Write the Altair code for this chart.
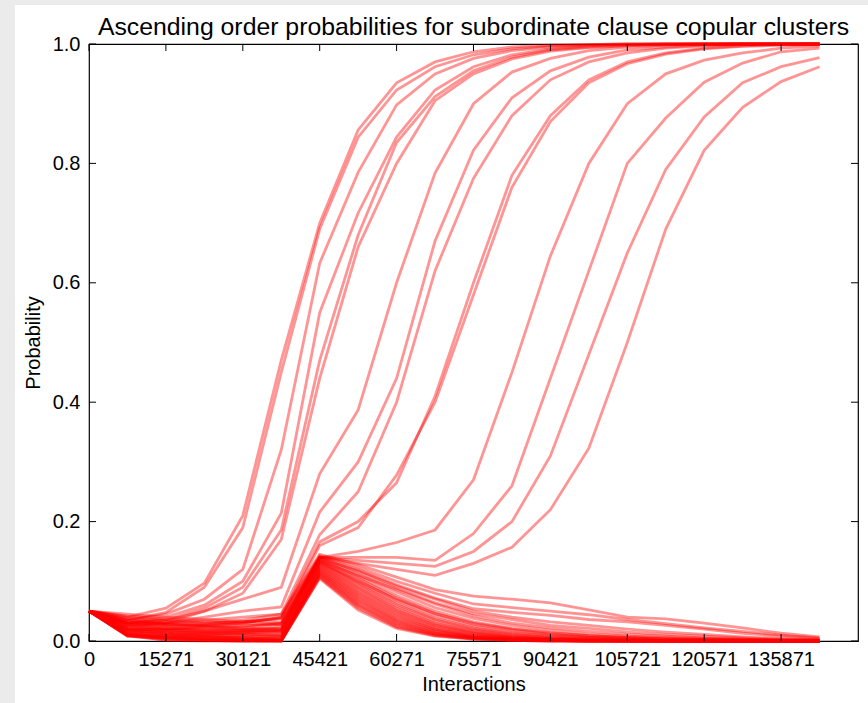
import json
import altair as alt
import pandas as pd

# ---------------- data ----------------
x_tick_positions = [0, 2, 4, 6, 8, 10, 12, 14, 16, 18]
x_tick_labels = ["0", "15271", "30121", "45421", "60271", "75571",
                 "90421", "105721", "120571", "135871"]
y_ticks = [0.0, 0.2, 0.4, 0.6, 0.8, 1.0]
chart_title = "Ascending order probabilities for subordinate clause copular clusters"

# clusters whose ascending order wins (rise to 1)
rise_01 = [0.05, 0.040, 0.055, 0.097, 0.210, 0.470, 0.700, 0.856, 0.935, 0.970, 0.987, 0.995, 0.998, 0.999, 1.0, 1.0, 1.0, 1.0, 1.0, 1.0]
rise_02 = [0.05, 0.035, 0.048, 0.090, 0.190, 0.450, 0.690, 0.844, 0.923, 0.962, 0.982, 0.992, 0.997, 0.999, 1.0, 1.0, 1.0, 1.0, 1.0, 1.0]
rise_03 = [0.05, 0.035, 0.045, 0.070, 0.120, 0.320, 0.633, 0.785, 0.898, 0.950, 0.976, 0.989, 0.995, 0.998, 0.999, 1.0, 1.0, 1.0, 1.0, 1.0]
rise_04 = [0.05, 0.030, 0.040, 0.060, 0.100, 0.214, 0.550, 0.717, 0.844, 0.923, 0.962, 0.982, 0.992, 0.997, 0.999, 1.0, 1.0, 1.0, 1.0, 1.0]
rise_05 = [0.05, 0.030, 0.035, 0.055, 0.090, 0.186, 0.470, 0.680, 0.835, 0.912, 0.955, 0.978, 0.990, 0.995, 0.998, 0.999, 1.0, 1.0, 1.0, 1.0]
rise_06 = [0.05, 0.028, 0.030, 0.050, 0.080, 0.170, 0.440, 0.660, 0.800, 0.905, 0.950, 0.975, 0.988, 0.994, 0.997, 0.999, 1.0, 1.0, 1.0, 1.0]
rise_07 = [0.05, 0.030, 0.035, 0.050, 0.070, 0.090, 0.280, 0.387, 0.600, 0.784, 0.900, 0.953, 0.976, 0.989, 0.995, 0.998, 0.999, 1.0, 1.0, 1.0]
rise_08 = [0.05, 0.025, 0.030, 0.040, 0.050, 0.057, 0.216, 0.300, 0.440, 0.670, 0.822, 0.910, 0.955, 0.978, 0.990, 0.995, 0.998, 1.0, 1.0, 1.0]
rise_09 = [0.05, 0.030, 0.030, 0.035, 0.040, 0.045, 0.178, 0.250, 0.400, 0.620, 0.775, 0.880, 0.940, 0.970, 0.985, 0.993, 0.997, 0.999, 1.0, 1.0]
rise_10 = [0.05, 0.020, 0.020, 0.025, 0.030, 0.040, 0.166, 0.200, 0.265, 0.410, 0.600, 0.780, 0.880, 0.940, 0.970, 0.985, 0.993, 0.997, 0.999, 1.0]
rise_11 = [0.05, 0.025, 0.025, 0.028, 0.032, 0.038, 0.160, 0.190, 0.278, 0.400, 0.580, 0.760, 0.870, 0.935, 0.967, 0.983, 0.992, 0.996, 0.998, 0.999]
rise_12 = [0.05, 0.022, 0.020, 0.020, 0.022, 0.030, 0.140, 0.150, 0.165, 0.186, 0.270, 0.450, 0.645, 0.800, 0.900, 0.950, 0.973, 0.985, 0.993, 0.997]
rise_13 = [0.05, 0.020, 0.018, 0.016, 0.018, 0.025, 0.140, 0.140, 0.140, 0.135, 0.180, 0.260, 0.440, 0.620, 0.800, 0.876, 0.936, 0.968, 0.987, 0.993]
rise_14 = [0.05, 0.018, 0.015, 0.014, 0.015, 0.020, 0.140, 0.135, 0.130, 0.125, 0.150, 0.200, 0.310, 0.480, 0.650, 0.790, 0.878, 0.935, 0.962, 0.977]
rise_15 = [0.05, 0.016, 0.014, 0.012, 0.013, 0.018, 0.140, 0.130, 0.120, 0.110, 0.130, 0.157, 0.220, 0.323, 0.500, 0.690, 0.822, 0.894, 0.937, 0.962]

# clusters whose ascending order dies out
fall_01 = [0.05, 0.035, 0.030, 0.030, 0.035, 0.045, 0.145, 0.128, 0.107, 0.086, 0.075, 0.070, 0.064, 0.052, 0.040, 0.037, 0.030, 0.022, 0.013, 0.007]
fall_02 = [0.05, 0.030, 0.028, 0.026, 0.030, 0.040, 0.143, 0.124, 0.100, 0.080, 0.062, 0.056, 0.050, 0.044, 0.036, 0.029, 0.022, 0.016, 0.010, 0.005]
fall_03 = [0.05, 0.040, 0.034, 0.030, 0.032, 0.038, 0.141, 0.120, 0.094, 0.072, 0.054, 0.048, 0.043, 0.036, 0.032, 0.026, 0.020, 0.013, 0.008, 0.004]
fall_04 = [0.05, 0.025, 0.020, 0.022, 0.025, 0.030, 0.140, 0.116, 0.088, 0.064, 0.046, 0.036, 0.026, 0.021, 0.015, 0.011, 0.008, 0.005, 0.003, 0.002]
fall_05 = [0.05, 0.045, 0.040, 0.036, 0.033, 0.032, 0.139, 0.112, 0.082, 0.056, 0.038, 0.026, 0.018, 0.012, 0.008, 0.006, 0.004, 0.003, 0.002, 0.001]
fall_06 = [0.05, 0.020, 0.018, 0.016, 0.018, 0.022, 0.137, 0.108, 0.076, 0.050, 0.032, 0.021, 0.014, 0.009, 0.006, 0.004, 0.003, 0.002, 0.001, 0.001]
fall_07 = [0.05, 0.032, 0.026, 0.024, 0.022, 0.020, 0.136, 0.105, 0.072, 0.046, 0.028, 0.018, 0.011, 0.007, 0.005, 0.003, 0.002, 0.001, 0.001, 0.000]
fall_08 = [0.05, 0.015, 0.012, 0.012, 0.014, 0.016, 0.134, 0.102, 0.068, 0.042, 0.025, 0.015, 0.009, 0.006, 0.004, 0.002, 0.002, 0.001, 0.000, 0.000]
fall_09 = [0.05, 0.028, 0.022, 0.018, 0.016, 0.014, 0.133, 0.098, 0.064, 0.038, 0.022, 0.013, 0.008, 0.005, 0.003, 0.002, 0.001, 0.001, 0.000, 0.000]
fall_10 = [0.05, 0.012, 0.010, 0.009, 0.010, 0.012, 0.131, 0.096, 0.061, 0.036, 0.020, 0.011, 0.006, 0.004, 0.002, 0.001, 0.001, 0.000, 0.000, 0.000]
fall_11 = [0.05, 0.038, 0.030, 0.025, 0.020, 0.018, 0.130, 0.093, 0.058, 0.033, 0.018, 0.010, 0.005, 0.003, 0.002, 0.001, 0.001, 0.000, 0.000, 0.000]
fall_12 = [0.05, 0.022, 0.016, 0.013, 0.011, 0.010, 0.128, 0.090, 0.055, 0.030, 0.016, 0.008, 0.004, 0.002, 0.001, 0.001, 0.000, 0.000, 0.000, 0.000]
fall_13 = [0.05, 0.010, 0.008, 0.007, 0.006, 0.008, 0.127, 0.088, 0.052, 0.028, 0.014, 0.007, 0.004, 0.002, 0.001, 0.001, 0.000, 0.000, 0.000, 0.000]
fall_14 = [0.05, 0.018, 0.014, 0.010, 0.008, 0.006, 0.125, 0.085, 0.050, 0.026, 0.013, 0.006, 0.003, 0.002, 0.001, 0.000, 0.000, 0.000, 0.000, 0.000]
fall_15 = [0.05, 0.026, 0.020, 0.015, 0.012, 0.009, 0.124, 0.082, 0.047, 0.024, 0.012, 0.006, 0.003, 0.001, 0.001, 0.000, 0.000, 0.000, 0.000, 0.000]
fall_16 = [0.05, 0.014, 0.010, 0.008, 0.006, 0.005, 0.122, 0.080, 0.045, 0.022, 0.010, 0.005, 0.002, 0.001, 0.001, 0.000, 0.000, 0.000, 0.000, 0.000]
fall_17 = [0.05, 0.008, 0.005, 0.004, 0.004, 0.004, 0.120, 0.077, 0.042, 0.020, 0.009, 0.004, 0.002, 0.001, 0.000, 0.000, 0.000, 0.000, 0.000, 0.000]
fall_18 = [0.05, 0.020, 0.012, 0.008, 0.005, 0.003, 0.119, 0.075, 0.040, 0.019, 0.008, 0.004, 0.002, 0.001, 0.000, 0.000, 0.000, 0.000, 0.000, 0.000]
fall_19 = [0.05, 0.011, 0.007, 0.005, 0.003, 0.002, 0.117, 0.072, 0.037, 0.017, 0.007, 0.003, 0.001, 0.001, 0.000, 0.000, 0.000, 0.000, 0.000, 0.000]
fall_20 = [0.05, 0.016, 0.009, 0.006, 0.003, 0.002, 0.116, 0.070, 0.035, 0.016, 0.007, 0.003, 0.001, 0.000, 0.000, 0.000, 0.000, 0.000, 0.000, 0.000]
fall_21 = [0.05, 0.009, 0.006, 0.004, 0.002, 0.001, 0.114, 0.067, 0.033, 0.014, 0.006, 0.002, 0.001, 0.000, 0.000, 0.000, 0.000, 0.000, 0.000, 0.000]
fall_22 = [0.05, 0.013, 0.006, 0.003, 0.002, 0.001, 0.113, 0.065, 0.031, 0.013, 0.005, 0.002, 0.001, 0.000, 0.000, 0.000, 0.000, 0.000, 0.000, 0.000]
fall_23 = [0.05, 0.010, 0.004, 0.002, 0.001, 0.001, 0.111, 0.062, 0.029, 0.012, 0.005, 0.002, 0.001, 0.000, 0.000, 0.000, 0.000, 0.000, 0.000, 0.000]
fall_24 = [0.05, 0.012, 0.005, 0.002, 0.001, 0.000, 0.110, 0.060, 0.027, 0.011, 0.004, 0.002, 0.001, 0.000, 0.000, 0.000, 0.000, 0.000, 0.000, 0.000]
fall_25 = [0.05, 0.009, 0.003, 0.001, 0.000, 0.000, 0.108, 0.058, 0.025, 0.010, 0.004, 0.001, 0.000, 0.000, 0.000, 0.000, 0.000, 0.000, 0.000, 0.000]
fall_26 = [0.05, 0.008, 0.002, 0.001, 0.000, 0.000, 0.106, 0.055, 0.023, 0.009, 0.003, 0.001, 0.000, 0.000, 0.000, 0.000, 0.000, 0.000, 0.000, 0.000]
fall_27 = [0.05, 0.010, 0.001, 0.000, 0.000, 0.000, 0.105, 0.052, 0.021, 0.008, 0.003, 0.001, 0.000, 0.000, 0.000, 0.000, 0.000, 0.000, 0.000, 0.000]
fall_28 = [0.05, 0.035, 0.028, 0.026, 0.026, 0.028, 0.138, 0.118, 0.092, 0.070, 0.050, 0.040, 0.032, 0.026, 0.020, 0.015, 0.011, 0.007, 0.004, 0.002]
fall_29 = [0.05, 0.042, 0.036, 0.032, 0.030, 0.028, 0.135, 0.110, 0.086, 0.062, 0.042, 0.030, 0.022, 0.016, 0.011, 0.008, 0.005, 0.003, 0.002, 0.001]
fall_30 = [0.05, 0.030, 0.024, 0.020, 0.018, 0.016, 0.132, 0.100, 0.070, 0.046, 0.030, 0.020, 0.013, 0.009, 0.006, 0.004, 0.003, 0.002, 0.001, 0.001]

series = {
    "rise_01": rise_01, "rise_02": rise_02, "rise_03": rise_03, "rise_04": rise_04,
    "rise_05": rise_05, "rise_06": rise_06, "rise_07": rise_07, "rise_08": rise_08,
    "rise_09": rise_09, "rise_10": rise_10, "rise_11": rise_11, "rise_12": rise_12,
    "rise_13": rise_13, "rise_14": rise_14, "rise_15": rise_15,
    "fall_01": fall_01, "fall_02": fall_02, "fall_03": fall_03, "fall_04": fall_04,
    "fall_05": fall_05, "fall_06": fall_06, "fall_07": fall_07, "fall_08": fall_08,
    "fall_09": fall_09, "fall_10": fall_10, "fall_11": fall_11, "fall_12": fall_12,
    "fall_13": fall_13, "fall_14": fall_14, "fall_15": fall_15, "fall_16": fall_16,
    "fall_17": fall_17, "fall_18": fall_18, "fall_19": fall_19, "fall_20": fall_20,
    "fall_21": fall_21, "fall_22": fall_22, "fall_23": fall_23, "fall_24": fall_24,
    "fall_25": fall_25, "fall_26": fall_26, "fall_27": fall_27, "fall_28": fall_28,
    "fall_29": fall_29, "fall_30": fall_30,
}

rows = []
for name, vals in series.items():
    for i, v in enumerate(vals):
        rows.append({"series": name, "step": i, "p": v})
df = pd.DataFrame(rows)

xt = pd.DataFrame({"step": x_tick_positions})
yt = pd.DataFrame({"p": y_ticks})
one = pd.DataFrame({"title": [chart_title]})

# ---------------- chart ----------------
W, H = 769, 597
FONT = "Liberation Sans"
FS = 20
label_expr = json.dumps(x_tick_labels) + "[round(datum.value / 2)]"

xscale = alt.Scale(domain=[0, 20], nice=False, zero=False)
yscale = alt.Scale(domain=[0, 1], nice=False)

lines = alt.Chart(df).mark_line(color="#ff0000", opacity=0.42, strokeWidth=2.8).encode(
    x=alt.X("step:Q", scale=xscale,
            axis=alt.Axis(values=x_tick_positions, labelExpr=label_expr,
                          title="Interactions", ticks=False, domain=False, grid=False,
                          labelPadding=8, titlePadding=5, labelFontSize=FS,
                          titleFontSize=FS, labelFont=FONT, titleFont=FONT,
                          labelColor="black", titleColor="black",
                          titleFontWeight="normal", labelFlush=False)),
    y=alt.Y("p:Q", scale=yscale,
            axis=alt.Axis(values=y_ticks, format=".1f", title="Probability",
                          ticks=False, domain=False, grid=False,
                          labelPadding=9, titlePadding=9, labelFontSize=FS,
                          titleFontSize=FS, labelFont=FONT, titleFont=FONT,
                          labelColor="black", titleColor="black",
                          titleFontWeight="normal")),
    detail="series:N",
)

tick_len = 7
xt_bottom = alt.Chart(xt).mark_rule(color="black", strokeWidth=1).encode(
    x=alt.X("step:Q", scale=xscale), y=alt.value(H), y2=alt.value(H - tick_len))
xt_top = alt.Chart(xt).mark_rule(color="black", strokeWidth=1).encode(
    x=alt.X("step:Q", scale=xscale), y=alt.value(0), y2=alt.value(tick_len))
yt_left = alt.Chart(yt).mark_rule(color="black", strokeWidth=1).encode(
    y=alt.Y("p:Q", scale=yscale), x=alt.value(0), x2=alt.value(tick_len))
yt_right = alt.Chart(yt).mark_rule(color="black", strokeWidth=1).encode(
    y=alt.Y("p:Q", scale=yscale), x=alt.value(W), x2=alt.value(W - tick_len))

gray = "#ebebeb"
strip_left = alt.Chart(one).mark_rect(color=gray).encode(
    x=alt.value(-89), x2=alt.value(-74), y=alt.value(-44), y2=alt.value(H + 62))
strip_top = alt.Chart(one).mark_rect(color=gray).encode(
    x=alt.value(-89), x2=alt.value(W + 10), y=alt.value(-44), y2=alt.value(-39))

title_text = alt.Chart(one).mark_text(
    font=FONT, fontSize=24.8, color="black", align="center", baseline="alphabetic"
).encode(text="title:N", x=alt.value(W / 2), y=alt.value(-9))

chart = alt.layer(
    strip_left, strip_top, lines, xt_bottom, xt_top, yt_left, yt_right, title_text
).properties(
    width=W, height=H,
    autosize=alt.AutoSizeParams(type="none"),
    padding={"left": 89, "top": 44, "right": 10, "bottom": 62},
    background="white",
).configure_view(
    stroke="black", strokeWidth=1.2
)

chart.save("out.html", embed_options={"renderer": "svg", "actions": False})
